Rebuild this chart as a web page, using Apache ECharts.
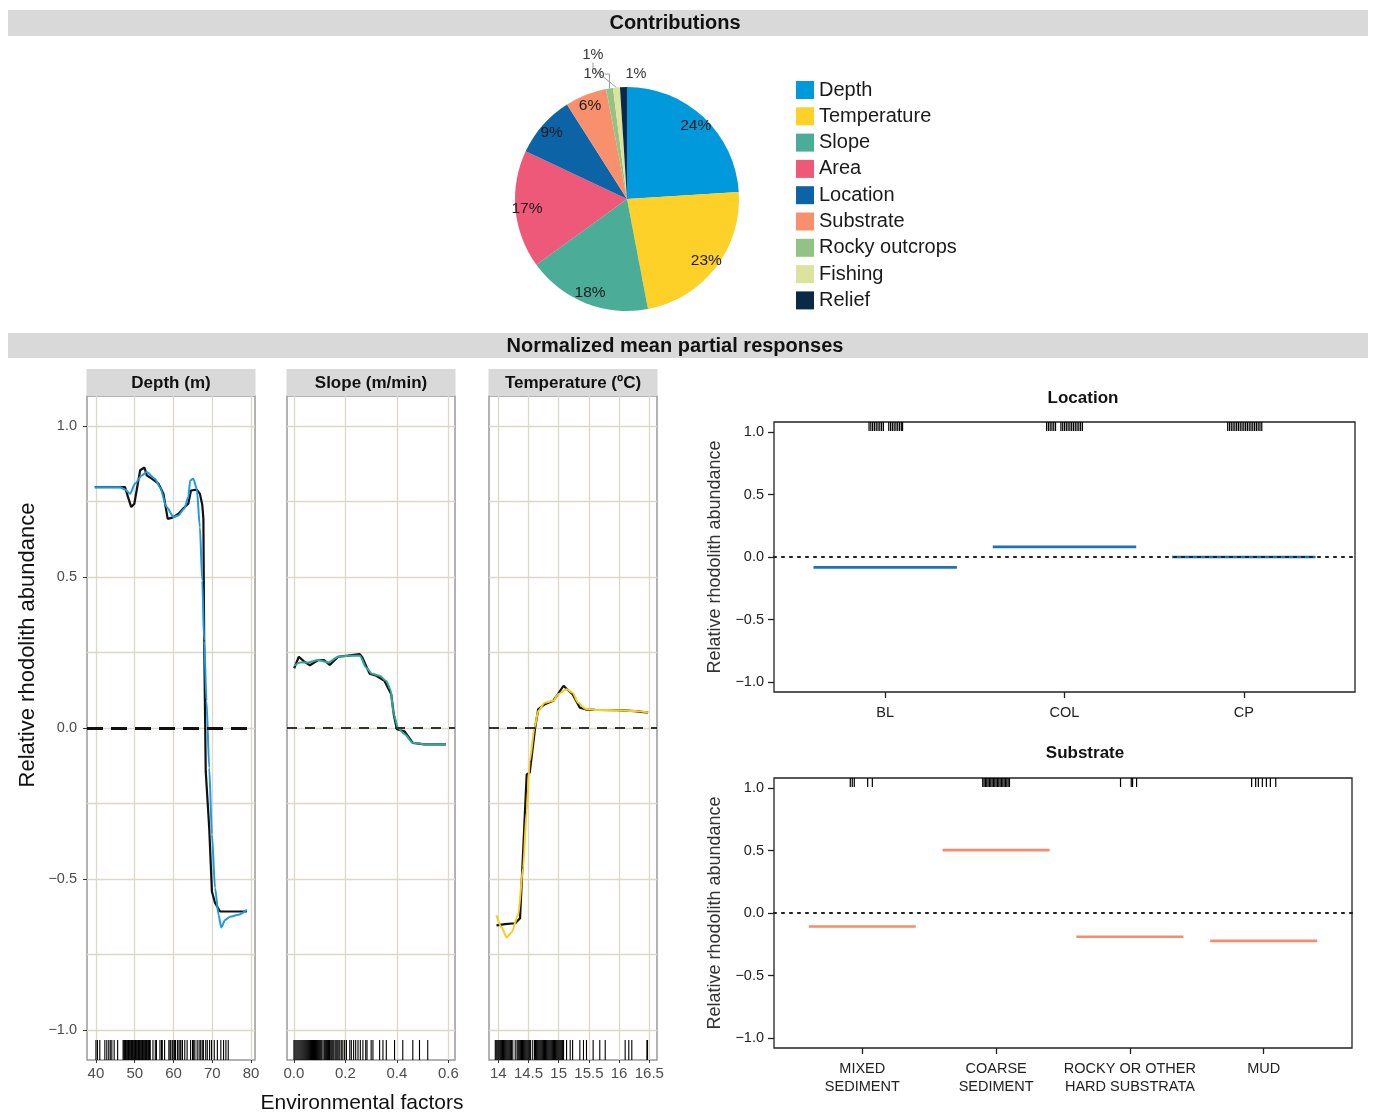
<!DOCTYPE html>
<html>
<head>
<meta charset="utf-8">
<script src="https://cdn.jsdelivr.net/npm/echarts@6/dist/echarts.min.js"></script>
<style>
  html, body { margin: 0; padding: 0; background: #fff; }
  #chart { width: 1375px; height: 1114px; }
</style>
</head>
<body>
<div id="chart"></div>
<script>
// ---------------- Variable contributions (%) ----------------
const contribNames  = ['Depth', 'Temperature', 'Slope', 'Area', 'Location', 'Substrate', 'Rocky outcrops', 'Fishing', 'Relief'];
const contribValues = [24, 23, 18, 17, 9, 6, 1, 1, 1];

// ---------------- Partial responses: continuous predictors ----------------
// [x, relative abundance]; "raw" = mean response, "fit" = smoothed response
const depthRaw = [[39.7,0.798],[47.5,0.798],[48.4,0.76],[49.1,0.732],[49.9,0.743],[51.4,0.854],[52.5,0.863],[53.1,0.837],[54.4,0.826],[56.1,0.81],[57.4,0.776],[58.5,0.693],[59.7,0.697],[61.3,0.71],[62.5,0.727],[63.8,0.743],[64.5,0.787],[66.0,0.79],[66.8,0.776],[67.4,0.74],[67.7,0.693],[67.9,0.289],[68.3,-0.143],[69.2,-0.331],[69.9,-0.542],[70.7,-0.58],[72.0,-0.608],[78.9,-0.608]];
const depthFit = [[39.7,0.798],[46.2,0.798],[47.5,0.79],[48.8,0.776],[50.1,0.81],[51.8,0.837],[53.1,0.848],[55.2,0.826],[56.5,0.798],[58.2,0.732],[60.0,0.699],[61.2,0.704],[62.8,0.727],[63.8,0.765],[64.3,0.82],[65.1,0.826],[66.0,0.793],[66.8,0.665],[67.4,0.488],[67.9,0.289],[68.5,0.09],[69.2,-0.132],[69.9,-0.353],[70.7,-0.53],[71.6,-0.619],[72.3,-0.661],[73.3,-0.636],[74.6,-0.625],[76.7,-0.619],[78.9,-0.602]];
const depthRug = [40,40.4,41,42.3,42.8,43.3,43.7,44.1,44.7,45.6,
  47,47.2,47.4,47.6,47.8,48,48.2,48.4,48.6,48.8,49,49.2,49.4,49.6,49.8,50,50.2,50.4,50.6,50.8,51,51.2,51.4,51.6,51.8,52,52.2,52.4,52.6,52.8,53,53.2,53.4,53.6,53.8,54,
  54.7,55.3,55.6,56.5,56.9,57.1,57.7,58.8,59.1,59.3,59.7,60.1,60.3,60.5,61,61.4,61.7,61.9,62.3,62.9,63.5,64.4,64.9,65.2,65.5,66.1,66.6,67,67.4,67.7,68.3,68.7,69.3,69.8,70.5,71.3,72.2,72.9,73.5,74.1];

const slopeRaw = [[0.001,0.198],[0.019,0.236],[0.04,0.22],[0.062,0.208],[0.094,0.225],[0.117,0.225],[0.139,0.209],[0.172,0.236],[0.21,0.24],[0.256,0.245],[0.265,0.235],[0.294,0.18],[0.32,0.173],[0.352,0.156],[0.378,0.112],[0.388,0.045],[0.4,-0.004],[0.43,-0.011],[0.462,-0.049],[0.507,-0.054],[0.591,-0.054]];
const slopeFit = [[0.001,0.206],[0.023,0.217],[0.055,0.217],[0.094,0.225],[0.133,0.217],[0.172,0.236],[0.21,0.239],[0.256,0.239],[0.281,0.2],[0.303,0.18],[0.333,0.173],[0.359,0.156],[0.375,0.128],[0.388,0.045],[0.404,0.001],[0.43,-0.021],[0.462,-0.049],[0.507,-0.054],[0.591,-0.054]];
const slopeRug = [0,0.004,0.008,0.012,0.016,0.02,0.024,0.028,0.032,0.036,0.04,0.044,0.048,0.052,0.056,0.06,0.064,0.068,0.072,0.076,0.08,0.084,0.088,0.092,0.096,0.1,0.104,0.108,0.113,0.118,0.122,0.126,0.13,0.134,0.138,0.143,0.147,0.151,0.155,0.16,0.164,0.168,0.172,0.178,0.184,0.19,0.197,0.204,0.217,0.223,0.232,0.24,0.249,0.258,0.268,0.279,0.284,0.3,0.307,0.333,0.346,0.359,0.391,0.423,0.462,0.488,0.52];

const tempRaw = [[13.97,-0.654],[14.11,-0.65],[14.28,-0.647],[14.36,-0.63],[14.47,-0.154],[14.52,-0.148],[14.61,0.001],[14.66,0.062],[14.77,0.079],[14.91,0.09],[15.08,0.14],[15.13,0.13],[15.23,0.112],[15.35,0.067],[15.44,0.062],[15.6,0.06],[15.99,0.059],[16.26,0.056],[16.48,0.051]];
const tempFit = [[13.97,-0.621],[14.06,-0.663],[14.14,-0.694],[14.22,-0.677],[14.33,-0.619],[14.41,-0.464],[14.47,-0.276],[14.52,-0.11],[14.6,0.001],[14.66,0.056],[14.77,0.084],[14.91,0.09],[14.99,0.112],[15.13,0.128],[15.23,0.117],[15.32,0.084],[15.44,0.064],[15.6,0.06],[15.99,0.059],[16.26,0.056],[16.48,0.051]];
const tempRug = [13.95,13.965,13.98,13.995,14.01,14.025,14.04,14.055,14.07,14.085,14.1,14.115,14.13,14.145,14.16,14.175,14.19,14.205,14.22,14.24,14.28,14.31,14.325,14.34,14.355,14.37,14.385,14.4,14.415,14.43,14.445,14.46,14.475,14.49,14.505,14.52,14.535,14.57,14.6,14.615,14.63,14.645,14.66,14.675,14.69,14.705,14.72,14.735,14.75,14.765,14.78,14.795,14.81,14.825,14.84,14.855,14.87,14.885,14.9,14.915,14.93,14.945,14.96,14.975,14.99,15.005,15.02,15.035,15.05,15.065,15.08,15.13,15.19,15.23,15.35,15.41,15.46,15.57,15.68,15.77,16.1,16.16,16.21,16.46,16.47];

// ---------------- Partial responses: categorical predictors ----------------
const locCats   = ['BL', 'COL', 'CP'];
const locValues = [-0.083, 0.081, 0.0];
const locRug    = [0.91,0.92,0.93,0.94,0.95,0.96,0.97,0.98,0.99,1.02,1.03,1.04,1.05,1.06,1.07,1.08,1.09,1.097,
                   1.9,1.91,1.92,1.93,1.94,1.95,1.98,1.99,2.0,2.01,2.02,2.03,2.04,2.05,2.06,2.07,2.08,2.09,2.1,
                   2.91,2.92,2.93,2.94,2.95,2.96,2.97,2.98,2.99,3.0,3.01,3.02,3.03,3.04,3.05,3.06,3.07,3.08,3.09,3.1];

const subCats   = ['MIXED\nSEDIMENT', 'COARSE\nSEDIMENT', 'ROCKY OR OTHER\nHARD SUBSTRATA', 'MUD'];
const subValues = [-0.108, 0.503, -0.19, -0.223];
const subRug    = [0.91,0.925,0.94,1.04,1.075,
                   1.9,1.91,1.92,1.93,1.94,1.95,1.96,1.97,1.98,1.99,2.0,2.01,2.02,2.03,2.04,2.05,2.06,2.07,2.08,2.09,2.1,
                   2.93,3.01,3.02,3.05,
                   3.91,3.94,3.96,3.99,4.02,4.05,4.09];

// ---------------- Styling ----------------
const FONT = '"Liberation Sans", Arial, Helvetica, sans-serif';
const contribColors = ['#0099DB', '#FDD127', '#4BAC98', '#EE5979', '#0C64A6', '#F9906D', '#93C384', '#DCE39C', '#0A2948'];
const GRID_LINE = '#DCD8CC';
const PANEL_BORDER = '#999999';
const STRIP_FILL = '#D9D9D9';
const TICK_TEXT = '#4D4D4D';

const PIE_C = [627, 199];
const PIE_R = 112;

const FACET = { top: 396, height: 664, width: 168, lefts: [87, 287, 489] };
const FACET_Y = [-1.1, 1.1];
const facetX = [
  { min: 37.7, max: 81.0, ticks: [40, 50, 60, 70, 80], fmt: v => String(v) },
  { min: -0.027, max: 0.626, ticks: [0, 0.2, 0.4, 0.6], fmt: v => v.toFixed(1) },
  { min: 13.846, max: 16.627, ticks: [14, 14.5, 15, 15.5, 16, 16.5], fmt: v => String(v) }
];
const facetTitles = ['Depth (m)', 'Slope (m/min)', 'Temperature (\u00BAC)'];
const facetColors = ['#1E9BDF', '#2FA898', '#F9CD19'];
const gridQuarter = [-1, -0.75, -0.5, -0.25, 0, 0.25, 0.5, 0.75, 1];
const yMajor = [-1, -0.5, 0, 0.5, 1];
const fmtY = v => (v < 0 ? '\u2212' : '') + Math.abs(v).toFixed(1);

const CAT_Y = [-1.08, 1.08];
const catPanels = [
  { left: 774, top: 422, width: 581, height: 270, xmin: 0.38, xmax: 3.62, cats: locCats, values: locValues, rug: locRug, color: '#1D72BA' },
  { left: 774, top: 778, width: 578, height: 270, xmin: 0.34, xmax: 4.66, cats: subCats, values: subValues, rug: subRug, color: '#F98B6B' }
];

// ---------------- Build option ----------------
const grids = [], xAxes = [], yAxes = [], series = [];

FACET.lefts.forEach((left, i) => {
  grids.push({ left: left, top: FACET.top, width: FACET.width, height: FACET.height,
    show: true, borderColor: PANEL_BORDER, borderWidth: 1.5, backgroundColor: '#fff',
    containLabel: false, outerBoundsMode: 'none' });
  const fx = facetX[i];
  xAxes.push({ type: 'value', gridIndex: i, min: fx.min, max: fx.max, position: 'bottom',
    axisLine: { show: false, onZero: false },
    axisTick: { show: true, length: 3, lineStyle: { color: '#333' }, customValues: fx.ticks },
    axisLabel: { customValues: fx.ticks, formatter: fx.fmt, color: TICK_TEXT, fontSize: 15, margin: 6, fontFamily: FONT, showMinLabel: true, showMaxLabel: true },
    splitLine: { show: true, lineStyle: { color: GRID_LINE, width: 1.3 } } });
  yAxes.push({ type: 'value', gridIndex: i, min: FACET_Y[0], max: FACET_Y[1], position: 'left',
    axisLine: { show: false, onZero: false },
    axisTick: { show: false, customValues: gridQuarter },
    axisLabel: { show: i === 0, customValues: yMajor, formatter: fmtY, color: TICK_TEXT, fontSize: 14.5, margin: 10, fontFamily: FONT },
    splitLine: { show: true, lineStyle: { color: GRID_LINE, width: 1.3 } } });
});

catPanels.forEach((cp, k) => {
  const gi = 3 + k;
  grids.push({ left: cp.left, top: cp.top, width: cp.width, height: cp.height,
    show: true, borderColor: '#222', borderWidth: 1.3, containLabel: false, outerBoundsMode: 'none' });
  const idx = cp.cats.map((c, j) => j + 1);
  xAxes.push({ type: 'value', gridIndex: gi, min: cp.xmin, max: cp.xmax, position: 'bottom',
    axisLine: { show: false, onZero: false },
    axisTick: { show: true, length: 6, lineStyle: { color: '#222', width: 1.3 }, customValues: idx },
    axisLabel: { customValues: idx, formatter: v => cp.cats[Math.round(v) - 1], color: '#222', fontSize: 14.5, margin: 12, lineHeight: 18, fontFamily: FONT },
    splitLine: { show: false } });
  yAxes.push({ type: 'value', gridIndex: gi, min: CAT_Y[0], max: CAT_Y[1], position: 'left',
    axisLine: { show: false, onZero: false },
    axisTick: { show: true, length: 6, lineStyle: { color: '#222', width: 1.3 }, customValues: yMajor },
    axisLabel: { customValues: yMajor, formatter: fmtY, color: '#222', fontSize: 14.5, margin: 10, fontFamily: FONT },
    splitLine: { show: false },
    name: 'Relative rhodolith abundance', nameLocation: 'middle', nameGap: 50,
    nameTextStyle: { fontSize: 18, color: '#333', fontFamily: FONT } });
});

// tick marks at the labelled values of the shared left axis
yAxes.push({ type: 'value', gridIndex: 0, position: 'left', offset: 0, min: FACET_Y[0], max: FACET_Y[1],
  axisLine: { show: false, onZero: false }, axisLabel: { show: false }, splitLine: { show: false },
  axisTick: { show: true, length: 4, lineStyle: { color: '#333' }, customValues: yMajor } });

// rug renderer: short vertical ticks anchored on a plot edge
function rugRenderer(edgeY, len, width) {
  return function (params, api) {
    const p = api.coord([api.value(0), edgeY]);
    return { type: 'line', shape: { x1: p[0], y1: p[1], x2: p[0], y2: p[1] + len },
      style: { stroke: '#000', lineWidth: width } };
  };
}

// pie slices
series.push({
  type: 'pie', center: PIE_C, radius: PIE_R, startAngle: 90, clockwise: true,
  silent: true, animation: false, avoidLabelOverlap: false,
  data: contribNames.map((n, i) => ({
    name: n, value: contribValues[i], itemStyle: { color: contribColors[i] },
    label: { show: contribValues[i] < 2 },
    labelLine: { show: contribValues[i] < 2 && n !== 'Relief' }
  })),
  label: { position: 'outside', formatter: p => p.value + '%', fontSize: 14.5, color: '#333', fontFamily: FONT },
  labelLine: { length: 6, length2: 6, lineStyle: { color: '#9A9A9A', width: 1 } },
  labelLayout: function (p) {
    const n = contribNames[p.dataIndex];
    if (n === 'Fishing') return { x: PIE_C[0] - 34, y: PIE_C[1] - 144, align: 'center', verticalAlign: 'middle' };
    if (n === 'Rocky outcrops') return { x: PIE_C[0] - 33, y: PIE_C[1] - 125, align: 'center', verticalAlign: 'middle' };
    if (n === 'Relief') return { x: PIE_C[0] + 9, y: PIE_C[1] - 125, align: 'center', verticalAlign: 'middle' };
    return {};
  }
});
// percentage labels inside the larger slices (transparent ring carrying the labels)
series.push({
  type: 'pie', center: PIE_C, radius: [PIE_R * 0.74, PIE_R], startAngle: 90, clockwise: true,
  silent: true, animation: false, legendHoverLink: false,
  itemStyle: { color: 'rgba(0,0,0,0)' },
  data: contribNames.map((n, i) => ({ name: n, value: contribValues[i],
    label: { show: contribValues[i] >= 2 } })),
  label: { position: 'inside', formatter: p => p.value + '%', fontSize: 15.5, color: '#1a1a1a', fontFamily: FONT },
  labelLine: { show: false }
});

// facet curves
const rawSets = [depthRaw, slopeRaw, tempRaw];
const fitSets = [depthFit, slopeFit, tempFit];
const rugSets = [depthRug, slopeRug, tempRug];
const zeroStyles = [
  { type: [16, 8], color: '#111', width: 3 },
  { type: [10, 8], color: '#333', width: 1.8 },
  { type: [10, 8], color: '#333', width: 1.8 }
];
for (let i = 0; i < 3; i++) {
  series.push({
    type: 'line', xAxisIndex: i, yAxisIndex: i, data: rawSets[i], showSymbol: false, silent: true, z: 3,
    lineStyle: { color: '#111', width: 2.2 },
    markLine: { silent: true, symbol: 'none', label: { show: false }, animation: false,
      lineStyle: zeroStyles[i], data: [{ yAxis: 0 }] }
  });
  series.push({
    type: 'line', xAxisIndex: i, yAxisIndex: i, data: fitSets[i], showSymbol: false, silent: true, z: 4,
    smooth: 0.25, smoothMonotone: 'x',
    lineStyle: { color: facetColors[i], width: 2 }
  });
  series.push({
    type: 'custom', xAxisIndex: i, yAxisIndex: i, silent: true, z: 5,
    data: rugSets[i].map(v => [v]), encode: { x: 0 },
    renderItem: rugRenderer(FACET_Y[0], -20, 1.1)
  });
}

// categorical panels: level segments, top rug, dotted zero line
catPanels.forEach((cp, k) => {
  const gi = 3 + k;
  series.push({
    type: 'custom', xAxisIndex: gi, yAxisIndex: gi, silent: true, z: 3,
    data: cp.values.map((v, j) => [j + 1, v]),
    renderItem: function (params, api) {
      const a = api.coord([api.value(0) - 0.4, api.value(1)]);
      const b = api.coord([api.value(0) + 0.4, api.value(1)]);
      return { type: 'line', shape: { x1: a[0], y1: a[1], x2: b[0], y2: b[1] },
        style: { stroke: cp.color, lineWidth: 2.6 } };
    }
  });
  series.push({
    type: 'custom', xAxisIndex: gi, yAxisIndex: gi, silent: true, z: 5,
    data: cp.rug.map(v => [v]), encode: { x: 0 },
    renderItem: rugRenderer(CAT_Y[1], 9, 1.2),
    markLine: { silent: true, symbol: 'none', label: { show: false }, animation: false,
      lineStyle: { type: [2, 6], color: '#222', width: 2.2, cap: 'round' }, data: [{ yAxis: 0 }] }
  });
});

// headers, facet strips and shared axis titles
const graphics = [
  { type: 'rect', shape: { x: 8, y: 10, width: 1360, height: 26 }, style: { fill: STRIP_FILL }, silent: true },
  { type: 'text', x: 675, y: 23, style: { text: 'Contributions', font: 'bold 20px ' + FONT, fill: '#111', align: 'center', verticalAlign: 'middle' }, silent: true },
  { type: 'rect', shape: { x: 8, y: 333, width: 1360, height: 25 }, style: { fill: STRIP_FILL }, silent: true },
  { type: 'text', x: 675, y: 346, style: { text: 'Normalized mean partial responses', font: 'bold 20px ' + FONT, fill: '#111', align: 'center', verticalAlign: 'middle' }, silent: true },
  { type: 'text', x: 28, y: 645, rotation: Math.PI / 2, style: { text: 'Relative rhodolith abundance', font: '22px ' + FONT, fill: '#111', align: 'center', verticalAlign: 'middle' }, silent: true },
  { type: 'text', x: 362, y: 1103, style: { text: 'Environmental factors', font: '21px ' + FONT, fill: '#111', align: 'center', verticalAlign: 'middle' }, silent: true },
  { type: 'text', x: 1083, y: 398, style: { text: 'Location', font: 'bold 17px ' + FONT, fill: '#111', align: 'center', verticalAlign: 'middle' }, silent: true },
  { type: 'text', x: 1085, y: 753, style: { text: 'Substrate', font: 'bold 17px ' + FONT, fill: '#111', align: 'center', verticalAlign: 'middle' }, silent: true }
];
FACET.lefts.forEach((left, i) => {
  graphics.push({ type: 'rect', shape: { x: left - 0.5, y: 369, width: FACET.width + 1, height: 27 },
    style: { fill: STRIP_FILL }, silent: true });
  graphics.push({ type: 'text', x: left + FACET.width / 2, y: 383,
    style: { text: facetTitles[i], font: 'bold 17px ' + FONT, fill: '#111', align: 'center', verticalAlign: 'middle' }, silent: true });
});

const option = {
  animation: false,
  backgroundColor: '#fff',
  textStyle: { fontFamily: FONT },
  legend: {
    orient: 'vertical', left: 791, top: 75, itemWidth: 18, itemHeight: 18, itemGap: 6.3,
    icon: 'rect', selectedMode: false, data: contribNames,
    textStyle: { fontSize: 20, color: '#1a1a1a', fontFamily: FONT }
  },
  grid: grids,
  xAxis: xAxes,
  yAxis: yAxes,
  series: series,
  graphic: graphics
};

const chart = echarts.init(document.getElementById('chart'), null, { renderer: 'canvas' });
chart.setOption(option);
</script>
</body>
</html>
